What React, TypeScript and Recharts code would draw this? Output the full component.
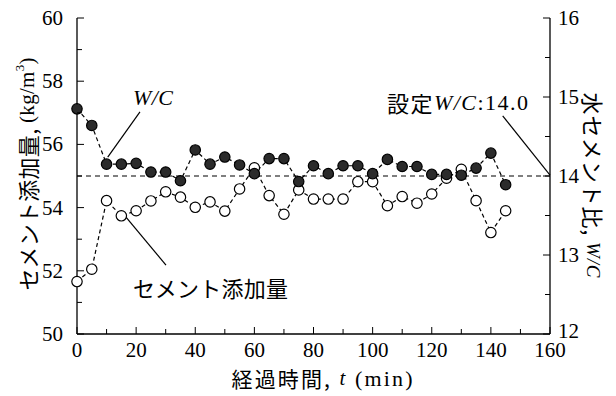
import React from "react";
import { LineChart, Line, XAxis, YAxis, ReferenceLine } from "recharts";

// elapsed time (min)
const times = [0, 5, 10, 15, 20, 25, 30, 35, 40, 45, 50, 55, 60, 65, 70, 75, 80, 85, 90, 95, 100, 105, 110, 115, 120, 125, 130, 135, 140, 145];
// cement added (kg/m3), left axis
const cement = [51.66, 52.05, 54.22, 53.74, 53.9, 54.21, 54.5, 54.33, 54.01, 54.18, 53.89, 54.59, 55.26, 54.38, 53.79, 54.56, 54.27, 54.27, 54.27, 54.82, 54.82, 54.06, 54.35, 54.14, 54.43, 54.93, 55.21, 54.22, 53.21, 53.9];
// water-cement ratio W/C, right axis
const wc = [14.85, 14.64, 14.15, 14.15, 14.16, 14.05, 14.05, 13.94, 14.33, 14.15, 14.24, 14.14, 14.03, 14.22, 14.22, 13.93, 14.13, 14.03, 14.13, 14.13, 14.03, 14.21, 14.12, 14.12, 14.02, 14.02, 14.01, 14.1, 14.29, 13.89];

const xTicks = [0, 10, 20, 30, 40, 50, 60, 70, 80, 90, 100, 110, 120, 130, 140, 150, 160];
const leftTicks = [50, 51, 52, 53, 54, 55, 56, 57, 58, 59, 60];
const rightTicks = [12, 12.5, 13, 13.5, 14, 14.5, 15, 15.5, 16];
const targetWC = 14.0;

const rows = times.map((t, i) => ({ t, cement: cement[i], wc: wc[i] }));

const SERIF = "Liberation Serif, Times New Roman, Times, serif";
const JP = "Noto Sans CJK JP, sans-serif";
const serif = { fontFamily: SERIF };
const serifIt = { fontFamily: SERIF, fontStyle: "italic" as const };
const jp = { fontFamily: JP };

const BottomTick = (p: any) => {
  const v = p.payload.value;
  const major = v % 20 === 0;
  return (
    <g>
      <line x1={p.x} y1={p.y} x2={p.x} y2={p.y - (major ? 7 : 5)} stroke="#000" />
      {major && (
        <text x={p.x} y={p.y + 16} textAnchor="middle" dominantBaseline="central" style={serif} fontSize={21}>
          {v}
        </text>
      )}
    </g>
  );
};

const TopTick = (p: any) => (
  <line x1={p.x} y1={p.y} x2={p.x} y2={p.y + 6} stroke="#000" />
);

const LeftTick = (p: any) => {
  const v = p.payload.value;
  const major = v % 2 === 0;
  return (
    <g>
      <line x1={p.x} y1={p.y} x2={p.x + (major ? 7 : 5)} y2={p.y} stroke="#000" />
      {major && (
        <text x={p.x - 14} y={p.y} textAnchor="end" dominantBaseline="central" style={serif} fontSize={21}>
          {v}
        </text>
      )}
    </g>
  );
};

const RightTick = (p: any) => {
  const v = p.payload.value;
  const major = Number.isInteger(v);
  return (
    <g>
      <line x1={p.x} y1={p.y} x2={p.x - (major ? 7 : 5)} y2={p.y} stroke="#000" />
      {major && (
        <text x={p.x + 8} y={v === 12 ? p.y - 3 : p.y} textAnchor="start" dominantBaseline="central" style={serif} fontSize={21}>
          {v}
        </text>
      )}
    </g>
  );
};

const openDot = (p: any) => (
  <circle key={`c${p.index}`} cx={p.cx} cy={p.cy} r={5.2} fill="#fff" stroke="#000" strokeWidth={1.2} />
);
const filledDot = (p: any) => (
  <circle key={`w${p.index}`} cx={p.cx} cy={p.cy} r={5.2} fill="#2b2b2b" stroke="#000" strokeWidth={1.2} />
);

export default function App() {
  return (
    <div style={{ position: "absolute", left: 0, top: 0, width: 616, height: 396, background: "#fff" }}>
      <LineChart width={616} height={396} data={rows} margin={{ top: 18, right: 16, bottom: 32, left: 17 }}>
        <XAxis
          xAxisId="bottom"
          dataKey="t"
          type="number"
          domain={[0, 160]}
          ticks={xTicks}
          interval={0}
          height={30}
          tickSize={0}
          tickMargin={0}
          tickLine={false}
          tick={<BottomTick />}
          axisLine={{ stroke: "#000", strokeWidth: 1.3 }}
        />
        <XAxis
          xAxisId="top"
          orientation="top"
          dataKey="t"
          type="number"
          domain={[0, 160]}
          ticks={xTicks}
          interval={0}
          height={0}
          tickSize={0}
          tickMargin={0}
          tickLine={false}
          tick={<TopTick />}
          axisLine={{ stroke: "#000", strokeWidth: 1.3 }}
        />
        <YAxis
          yAxisId="left"
          domain={[50, 60]}
          ticks={leftTicks}
          interval={0}
          width={60}
          tickSize={0}
          tickMargin={0}
          tickLine={false}
          tick={<LeftTick />}
          axisLine={{ stroke: "#000", strokeWidth: 1.3 }}
        />
        <YAxis
          yAxisId="right"
          orientation="right"
          domain={[12, 16]}
          ticks={rightTicks}
          interval={0}
          width={50}
          tickSize={0}
          tickMargin={0}
          tickLine={false}
          tick={<RightTick />}
          axisLine={{ stroke: "#000", strokeWidth: 1.3 }}
        />
        <ReferenceLine
          xAxisId="bottom"
          yAxisId="right"
          y={targetWC}
          stroke="#000"
          strokeWidth={1.2}
          strokeDasharray="5 4"
        />
        {/* annotation leader lines */}
        <ReferenceLine
          xAxisId="bottom"
          yAxisId="left"
          segment={[{ x: 21.3, y: 57.03 }, { x: 10.4, y: 55.6 }]}
          stroke="#000"
          strokeWidth={1.2}
        />
        <ReferenceLine
          xAxisId="bottom"
          yAxisId="left"
          segment={[{ x: 144.0, y: 56.9 }, { x: 160, y: 55.03 }]}
          stroke="#000"
          strokeWidth={1.2}
        />
        <ReferenceLine
          xAxisId="bottom"
          yAxisId="left"
          segment={[{ x: 16.5, y: 53.71 }, { x: 30.1, y: 52.18 }]}
          stroke="#000"
          strokeWidth={1.2}
        />
        <Line
          xAxisId="bottom"
          yAxisId="left"
          dataKey="cement"
          stroke="#000"
          strokeWidth={1.2}
          strokeDasharray="4 3"
          dot={openDot}
          isAnimationActive={false}
        />
        <Line
          xAxisId="bottom"
          yAxisId="right"
          dataKey="wc"
          stroke="#000"
          strokeWidth={1.2}
          strokeDasharray="4 3"
          dot={filledDot}
          isAnimationActive={false}
        />
      </LineChart>
      <svg width={616} height={396} style={{ position: "absolute", left: 0, top: 0, pointerEvents: "none" }}>
        <text
          transform="translate(27,174) rotate(-90)"
          textAnchor="middle"
          dominantBaseline="central"
          fontSize={22}
          textLength={233}
        >
          <tspan style={jp}>セメント添加量,</tspan>
          <tspan style={serif} fontSize={21}> (kg/m</tspan>
          <tspan style={serif} fontSize={13} dy={-8}>3</tspan>
          <tspan style={serif} fontSize={21} dy={8}>)</tspan>
        </text>
        <text
          transform="translate(594,185) rotate(90)"
          textAnchor="middle"
          dominantBaseline="central"
          fontSize={22}
          textLength={185}
        >
          <tspan style={jp}>水セメント比,</tspan>
          <tspan style={serifIt} fontSize={19}> W/C</tspan>
        </text>
        <text x={322} y={378} textAnchor="middle" dominantBaseline="central" fontSize={21} textLength={181}>
          <tspan style={jp}>経過時間,</tspan>
          <tspan style={serifIt}> t</tspan>
          <tspan style={serif} fontSize={22}> (min)</tspan>
        </text>
        <text x={133} y={97} dominantBaseline="central" style={serifIt} fontSize={22} textLength={40}>
          W/C
        </text>
        <text x={387} y={102} dominantBaseline="central" fontSize={22} textLength={141}>
          <tspan style={jp}>設定</tspan>
          <tspan style={serifIt}>W/C</tspan>
          <tspan style={serif}>:14.0</tspan>
        </text>
        <text x={133} y={287} dominantBaseline="central" style={jp} fontSize={22} textLength={155}>
          セメント添加量
        </text>
      </svg>
    </div>
  );
}
